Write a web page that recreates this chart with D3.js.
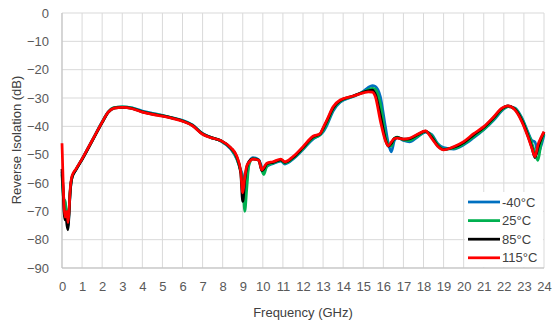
<!DOCTYPE html>
<html><head><meta charset="utf-8">
<script src="https://cdn.jsdelivr.net/npm/d3@7"></script>
<style>body{margin:0;background:#fff}svg{display:block}text{font-family:"Liberation Sans",Arial,sans-serif}</style>
</head><body><svg id="c" width="554" height="322"></svg>
<script>
const freq = [0,0.05,0.1,0.15,0.2,0.25,0.3,0.35,0.4,0.5,
0.7,1.0,1.5,2.0,2.3,2.6,3.0,3.5,4.0,4.5,
5.0,5.5,6.0,6.5,7.0,7.4,7.9,8.4,8.7,8.9,
9.0,9.1,9.2,9.3,9.5,9.8,9.95,10.05,10.2,10.5,
10.9,11.1,11.5,12.0,12.5,12.85,13.0,13.2,13.5,13.85,
14.5,15.0,15.25,15.45,15.6,15.85,16.1,16.25,16.4,16.55,
16.7,17.0,17.3,17.7,18.1,18.4,18.7,19.0,19.5,20.0,
20.5,21.0,21.5,21.9,22.2,22.55,22.9,23.2,23.4,23.55,
23.7,23.85,24.0];
const isoM40 = [-56,-62,-66,-67,-70,-73,-75.5,-70.5,-64,-58,
-55.2,-51.5,-45,-38.4,-34.9,-33.4,-33.1,-33.5,-34.6,-35.4,
-36.1,-37,-37.9,-39.5,-42.5,-43.9,-45.2,-48,-51.5,-55.5,
-57.5,-64,-59,-53,-51,-51.8,-54.5,-56,-54.2,-53.2,
-52.3,-53.3,-51.6,-48.2,-44.5,-43,-42,-39.5,-34.6,-31.5,
-29.5,-27.7,-26.3,-25.6,-25.9,-29.5,-40,-46,-49,-45,
-44,-45,-45.5,-43.8,-42,-42.8,-46,-47.5,-48,-46.5,
-44,-41.2,-37.8,-34.5,-33,-33.5,-37,-42,-45,-45.5,
-49.5,-47,-43];
const iso25 = [-57,-63,-67,-66,-69,-72,-75,-70,-63.5,-58,
-55.2,-51.6,-45.1,-38.5,-35,-33.4,-33.1,-33.6,-34.8,-35.6,
-36.2,-37,-38,-39.6,-42.6,-43.9,-45.1,-47.8,-51.3,-56,
-59,-70,-62,-54,-51.4,-52,-55.5,-57,-54,-53,
-52,-53,-51.3,-47.9,-44.2,-43,-41.5,-38.8,-34,-31.2,
-29.4,-27.9,-27.1,-26.6,-26.9,-32,-43,-46.5,-47,-44.2,
-43.8,-44.8,-45,-43.5,-41.9,-43.2,-46.3,-48,-47.8,-46.2,
-43.6,-41,-37.4,-34.2,-33,-33.7,-37.4,-42.5,-46,-49.5,
-52,-46,-42.5];
const iso85 = [-55,-62,-70,-73,-72,-75,-76.5,-71,-64,-58,
-55.3,-51.7,-45.2,-38.7,-35.1,-33.6,-33.3,-33.7,-34.9,-35.7,
-36.3,-37.1,-38.1,-39.7,-42.7,-43.9,-45,-47.6,-50.8,-56.5,
-66.5,-59,-54.5,-52.5,-51.5,-52,-55.6,-55,-53.2,-52.7,
-51.8,-52.7,-51,-47.5,-43.7,-42.7,-40.8,-38,-33.5,-30.9,
-29.3,-28,-27.5,-27.2,-28.6,-36,-44.5,-47,-46,-44.3,
-44,-44.5,-44.4,-43,-41.7,-43.8,-46.8,-48.2,-47.4,-45.7,
-43,-40.4,-36.9,-33.8,-32.8,-34,-38,-43.3,-47.5,-51,
-47.5,-44.5,-42];
const iso115 = [-46,-58,-68,-72,-71,-70,-74,-70,-63,-57.5,
-55,-51.5,-45,-38.5,-35,-33.6,-33.3,-33.8,-35,-35.8,
-36.4,-37.2,-38.2,-39.8,-42.8,-44,-45,-47.5,-50.5,-56,
-63.5,-58,-54,-52.8,-51.6,-52,-55.4,-54.5,-53,-52.5,
-51.6,-52.5,-50.7,-47.2,-43.5,-42.6,-40.5,-37.6,-33.1,-30.7,
-29.3,-28.2,-27.8,-27.9,-29.5,-38,-45,-46.9,-45.5,-44.3,
-44.2,-44.5,-44.2,-42.8,-41.6,-44.2,-47,-48.3,-47.2,-45.4,
-42.6,-40.1,-36.6,-33.6,-32.8,-34.2,-38.4,-43.7,-47.8,-50.7,
-46.5,-44,-41.9];
const seriesNames = ["-40°C","25°C","85°C","115°C"];
const seriesColors = ["#0070C0","#00B050","#000000","#FF0000"];
const seriesValues = [isoM40, iso25, iso85, iso115];
const xTicks = d3.range(0,25,1);
const yTicks = d3.range(0,-91,-10);

const svg = d3.select("#c");
const L=62,R=544,T=13,B=268;
const x = d3.scaleLinear().domain([0,24]).range([L,R]);
const y = d3.scaleLinear().domain([-90,0]).range([B,T]);
const g = svg.append("g");
g.selectAll(".vg").data(xTicks).join("line").attr("x1",d=>x(d)).attr("x2",d=>x(d)).attr("y1",T).attr("y2",B).attr("stroke","#d9d9d9").attr("stroke-width",1);
g.selectAll(".hg").data(yTicks).join("line").attr("x1",L).attr("x2",R).attr("y1",d=>y(d)).attr("y2",d=>y(d)).attr("stroke","#d9d9d9").attr("stroke-width",1);
g.append("line").attr("x1",L).attr("x2",L).attr("y1",T).attr("y2",B).attr("stroke","#bfbfbf");
g.append("line").attr("x1",L).attr("x2",R).attr("y1",B).attr("y2",B).attr("stroke","#bfbfbf");

const xa = svg.append("g").attr("transform",`translate(0,${B})`).call(d3.axisBottom(x).tickValues(xTicks).tickSize(0).tickPadding(14).tickFormat(d3.format("d")));
xa.select(".domain").remove();
xa.selectAll("text").attr("font-size",13).attr("fill","#595959").attr("font-family","Liberation Sans, Arial, sans-serif");
const ya = svg.append("g").attr("transform",`translate(${L},0)`).call(d3.axisLeft(y).tickValues(yTicks).tickSize(0).tickPadding(13).tickFormat(d3.format("d")));
ya.select(".domain").remove();
ya.selectAll("text").attr("font-size",13).attr("fill","#595959").attr("font-family","Liberation Sans, Arial, sans-serif");

const line = d3.line().x((d,i)=>x(freq[i])).y(d=>y(d)).curve(d3.curveMonotoneX);
seriesValues.forEach((vals,k)=>{
  svg.append("path").datum(vals).attr("d",line).attr("fill","none").attr("stroke",seriesColors[k]).attr("stroke-width",2.75).attr("stroke-linejoin","round");
});

svg.append("text").attr("x",(L+R)/2).attr("y",317).attr("text-anchor","middle").attr("font-size",13).attr("fill","#404040").text("Frequency (GHz)");
svg.append("text").attr("transform","translate(21,140) rotate(-90)").attr("text-anchor","middle").attr("font-size",13).attr("fill","#404040").text("Reverse Isolation (dB)");

const lg = svg.append("g");
lg.append("rect").attr("x",465).attr("y",192).attr("width",78).attr("height",75).attr("fill","#fff");
seriesNames.forEach((n,k)=>{
  const yy = 202 + k*18.6;
  lg.append("line").attr("x1",468).attr("x2",500).attr("y1",yy).attr("y2",yy).attr("stroke",seriesColors[k]).attr("stroke-width",2.75);
  lg.append("text").attr("x",502).attr("y",yy+4.5).attr("font-size",13).attr("fill","#404040").text(n);
});
</script></body></html>
